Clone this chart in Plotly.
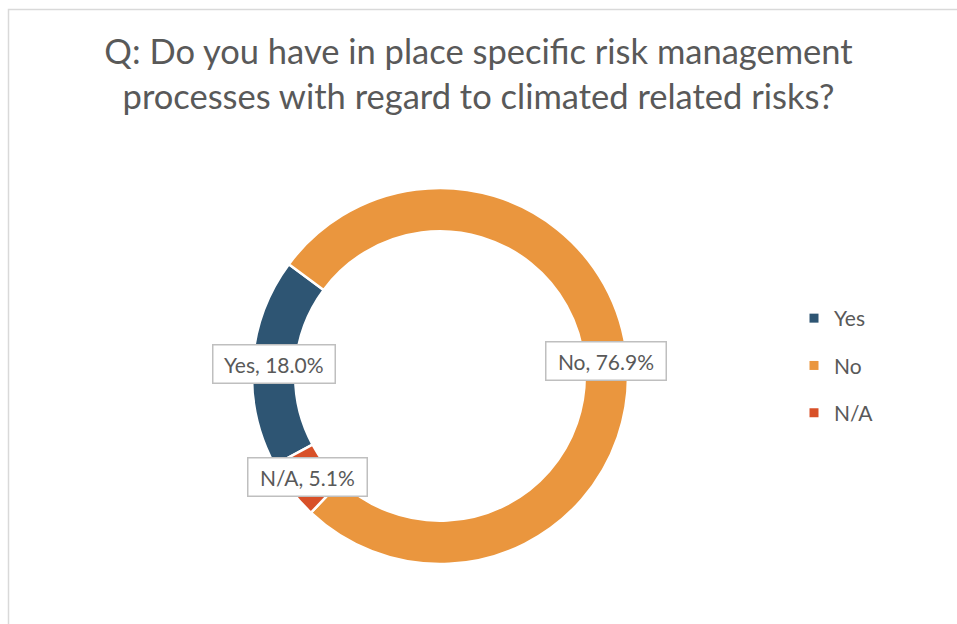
import math
import plotly.graph_objects as go

categories = ["Yes", "No", "N/A"]
values = [18.0, 76.9, 5.1]
colors = ["#2E5573", "#EA963E", "#D85028"]
label_texts = ["Yes, 18.0%", "No, 76.9%", "N/A, 5.1%"]

W, H = 957, 624
CX, CY = 440, 376          # donut centre, px
R_OUT, HOLE = 188, 0.77
ROTATION = 241.7           # start angle of first slice (clockwise from 12 o'clock)

FONT = "Lato"
GREY = "#595959"

fig = go.Figure()
fig.add_trace(go.Pie(
    labels=categories, values=values, sort=False, direction="clockwise",
    rotation=ROTATION, hole=HOLE, textinfo="none", hoverinfo="label+percent",
    marker=dict(colors=colors, line=dict(color="white", width=2.5)),
    domain=dict(x=[(CX - R_OUT) / W, (CX + R_OUT) / W],
                y=[1 - (CY + R_OUT) / H, 1 - (CY - R_OUT) / H]),
    showlegend=False,
))

# legend entries (one group per category so spacing can be controlled)
for cat, col in zip(categories, colors):
    fig.add_trace(go.Scatter(
        x=[None], y=[None], mode="markers", name=cat, legendgroup=cat,
        marker=dict(symbol="square", size=9, color=col),
    ))

# data labels placed at mid-ring along each slice's mid angle
total = sum(values)
r_mid = R_OUT * (1 + HOLE) / 2
start = ROTATION
annotations = []
for txt, v in zip(label_texts, values):
    span = v / total * 360
    mid = math.radians(start + span / 2)
    px = CX + r_mid * math.sin(mid)
    py = CY - r_mid * math.cos(mid)
    annotations.append(dict(
        x=px / W, y=1 - py / H, xref="paper", yref="paper",
        text="&nbsp;" + txt + "&nbsp;",
        showarrow=False, xanchor="center", yanchor="middle",
        font=dict(family=FONT, size=21, color=GREY),
        bgcolor="white", bordercolor="#BFBFBF", borderwidth=1.5, borderpad=6,
    ))
    start += span

fig.update_layout(
    width=W, height=H, margin=dict(l=0, r=0, t=0, b=0),
    paper_bgcolor="white", plot_bgcolor="white",
    title=dict(
        text="Q: Do you have in place specific risk management<br>processes with regard to climated related risks?",
        x=0.5, xanchor="center", yref="container", y=1 - 64 / H, yanchor="middle",
        font=dict(family=FONT, size=34.5, color=GREY),
    ),
    xaxis=dict(visible=False), yaxis=dict(visible=False),
    legend=dict(
        x=794 / W, y=1 - 298 / H, xanchor="left", yanchor="top",
        font=dict(family=FONT, size=21, color=GREY),
        tracegroupgap=17, bgcolor="rgba(0,0,0,0)", itemwidth=30,
    ),
    annotations=annotations,
    shapes=[dict(type="rect", xref="paper", yref="paper",
                 x0=8.5 / W, x1=1.02, y0=-0.02, y1=1 - 9.5 / H,
                 line=dict(color="#D9D9D9", width=1.5), layer="below")],
)

fig.write_html("out.html", config={"displayModeBar": False},
               post_script="document.body.style.margin='0';")
